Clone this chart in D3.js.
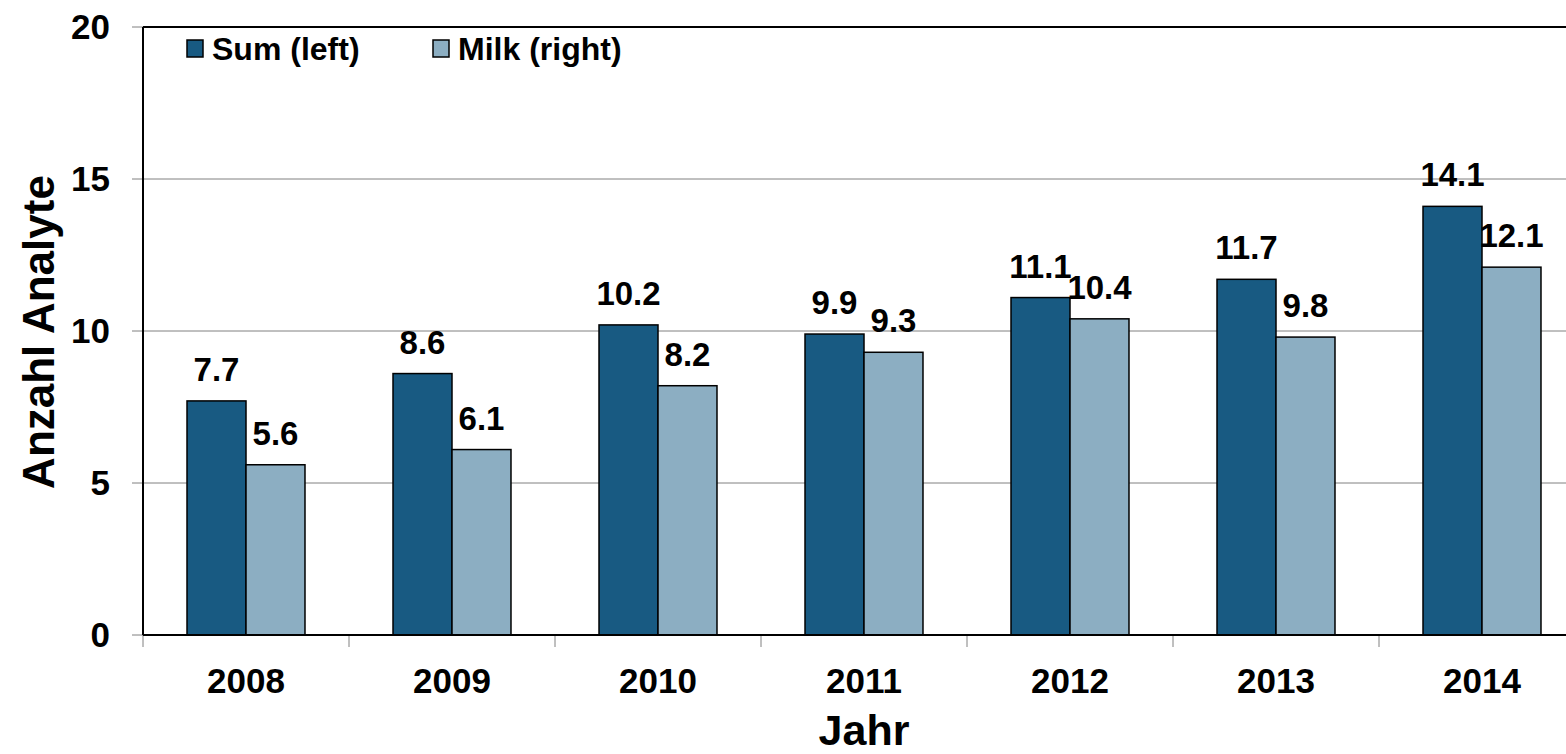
<!DOCTYPE html>
<html>
<head>
<meta charset="utf-8">
<script src="https://cdn.jsdelivr.net/npm/d3@7"></script>
<style>
  body { margin: 0; background: #fff; }
  svg { display: block; font-family: "Liberation Sans", Arial, sans-serif; font-weight: bold; }
</style>
</head>
<body>
<svg id="chart" width="1566" height="754"></svg>
<script>
const years = ['2008', '2009', '2010', '2011', '2012', '2013', '2014']
const sumValues = [7.7, 8.6, 10.2, 9.9, 11.1, 11.7, 14.1]
const milkValues = [5.6, 6.1, 8.2, 9.3, 10.4, 9.8, 12.1]
const seriesNames = ['Sum (left)', 'Milk (right)']
const yTicks = [0, 5, 10, 15, 20]

const colors = ['#185a82', '#8caec2']

const svg = d3.select('#chart')
const plotLeft = 143, plotRight = 1585, plotTop = 27, plotBottom = 635

const x0 = d3.scaleBand().domain(years).range([plotLeft, plotRight]).padding(0)
const x1 = d3.scaleBand().domain([0, 1]).range([0, x0.bandwidth()]).paddingInner(0).paddingOuter(0.746)
const y = d3.scaleLinear().domain([0, 20]).range([plotBottom, plotTop])

// gridlines
svg.append('g').selectAll('line').data(yTicks.filter(d => d > 0 && d < 20)).join('line')
    .attr('x1', plotLeft).attr('x2', plotRight)
    .attr('y1', d => y(d)).attr('y2', d => y(d))
    .attr('stroke', '#808080').attr('stroke-width', 1)

// y tick stubs + labels
svg.append('g').selectAll('line').data(yTicks).join('line')
    .attr('x1', plotLeft - 11).attr('x2', plotLeft)
    .attr('y1', d => y(d)).attr('y2', d => y(d))
    .attr('stroke', '#808080').attr('stroke-width', 1)
svg.append('g').selectAll('text').data(yTicks).join('text')
    .attr('x', 110).attr('y', d => y(d) + 12)
    .attr('text-anchor', 'end').attr('font-size', 35)
    .text(d => d)

// x tick stubs
svg.append('g').selectAll('line').data(years).join('line')
    .attr('x1', d => x0(d)).attr('x2', d => x0(d))
    .attr('y1', plotBottom).attr('y2', plotBottom + 12)
    .attr('stroke', '#808080').attr('stroke-width', 1)

// bars
const rows = years.map((yr, i) => ({ year: yr, vals: [sumValues[i], milkValues[i]] }))
const groups = svg.append('g').selectAll('g').data(rows).join('g')
    .attr('transform', d => `translate(${x0(d.year)},0)`)
groups.selectAll('rect').data(d => d.vals.map((v, k) => ({ v, k }))).join('rect')
    .attr('x', d => x1(d.k)).attr('width', x1.bandwidth())
    .attr('y', d => y(d.v)).attr('height', d => y(0) - y(d.v))
    .attr('fill', d => colors[d.k]).attr('stroke', '#000').attr('stroke-width', 1.5)
groups.selectAll('text').data(d => d.vals.map((v, k) => ({ v, k }))).join('text')
    .attr('x', d => x1(d.k) + x1.bandwidth() / 2)
    .attr('y', d => y(d.v) - 20)
    .attr('text-anchor', 'middle').attr('font-size', 33)
    .text(d => d.v.toFixed(1))

// axes lines
svg.append('line').attr('x1', plotLeft).attr('x2', plotRight).attr('y1', plotBottom).attr('y2', plotBottom)
    .attr('stroke', '#000').attr('stroke-width', 2)
svg.append('line').attr('x1', plotLeft).attr('x2', plotRight).attr('y1', plotTop).attr('y2', plotTop)
    .attr('stroke', '#000').attr('stroke-width', 2)
svg.append('line').attr('x1', plotLeft).attr('x2', plotLeft).attr('y1', plotTop).attr('y2', plotBottom)
    .attr('stroke', '#000').attr('stroke-width', 2)

// x labels
svg.append('g').selectAll('text').data(years).join('text')
    .attr('x', d => x0(d) + x0.bandwidth() / 2).attr('y', 693)
    .attr('text-anchor', 'middle').attr('font-size', 35)
    .text(d => d)

// axis titles
svg.append('text').attr('x', 864).attr('y', 745)
    .attr('text-anchor', 'middle').attr('font-size', 43).text('Jahr')
svg.append('text').attr('transform', 'translate(54,332) rotate(-90)')
    .attr('text-anchor', 'middle').attr('font-size', 44).text('Anzahl Analyte')

// legend
const legendX = [187, 433]
const legend = svg.append('g').selectAll('g').data(seriesNames).join('g')
    .attr('transform', (d, i) => `translate(${legendX[i]},40)`)
legend.append('rect').attr('width', 16).attr('height', 17)
    .attr('fill', (d, i) => colors[i]).attr('stroke', '#000').attr('stroke-width', 1.5)
legend.append('text').attr('x', 25).attr('y', 20).attr('font-size', 32).text(d => d)
</script>
</body>
</html>
